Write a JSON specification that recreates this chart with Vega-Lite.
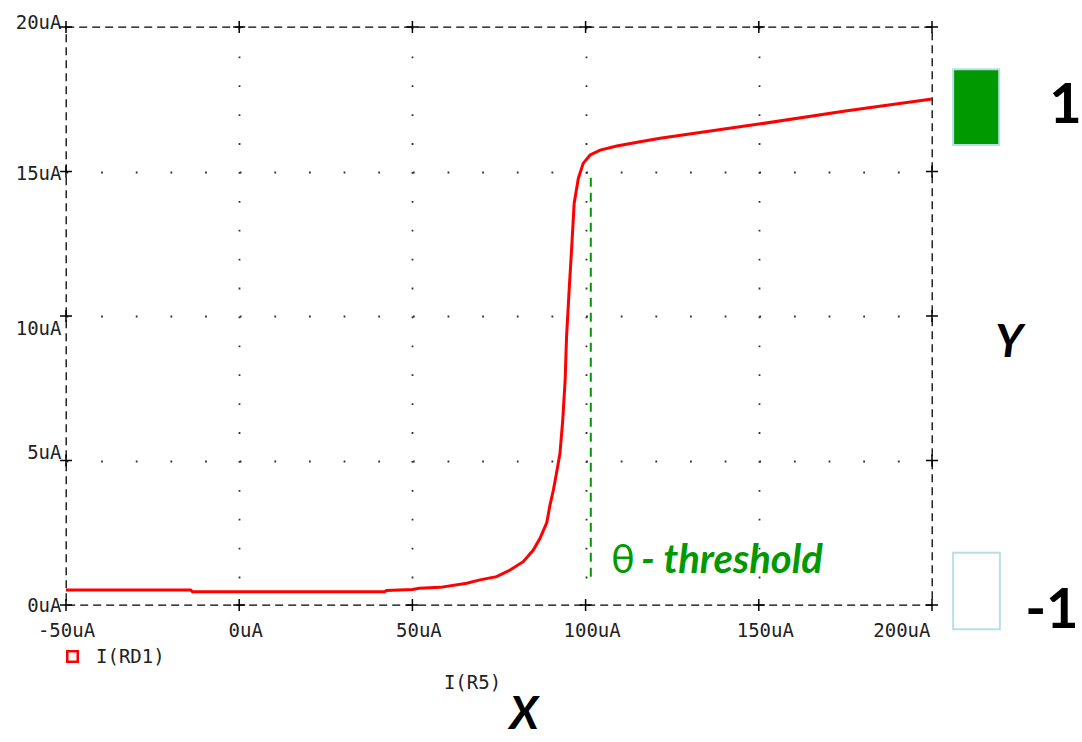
{
  "$schema": "https://vega.github.io/schema/vega-lite/v6.json",
  "width": 866,
  "height": 578,
  "autosize": {"type": "none"},
  "padding": {"left": 66, "top": 27, "right": 150, "bottom": 137},
  "background": "white",
  "config": {
    "view": {"stroke": "#000000", "strokeDash": [8, 5], "strokeWidth": 1.3},
    "axis": {"labelFont": "DejaVu Sans Mono", "titleFont": "DejaVu Sans Mono"}
  },
  "datasets": {
    "curve": [
      {"x": -50, "y": 0.52}, {"x": -14, "y": 0.52}, {"x": -13.5, "y": 0.46}, {"x": 42, "y": 0.46},
      {"x": 42.5, "y": 0.5}, {"x": 50, "y": 0.54}, {"x": 52, "y": 0.58}, {"x": 58, "y": 0.61},
      {"x": 65.7, "y": 0.75}, {"x": 69.5, "y": 0.87}, {"x": 74.3, "y": 0.98}, {"x": 78.2, "y": 1.21},
      {"x": 82, "y": 1.5}, {"x": 84.9, "y": 1.9}, {"x": 86.8, "y": 2.3}, {"x": 88.8, "y": 2.85},
      {"x": 89.7, "y": 3.45}, {"x": 90.7, "y": 3.98}, {"x": 91.5, "y": 4.5}, {"x": 92.6, "y": 5.25},
      {"x": 93.4, "y": 6.4}, {"x": 94.1, "y": 7.8}, {"x": 94.5, "y": 9.28}, {"x": 95.3, "y": 11.0},
      {"x": 96.0, "y": 12.4}, {"x": 96.7, "y": 13.9}, {"x": 97.9, "y": 14.76}, {"x": 99.3, "y": 15.28},
      {"x": 101.3, "y": 15.57}, {"x": 104.2, "y": 15.74}, {"x": 109, "y": 15.88}, {"x": 115.7, "y": 16.03},
      {"x": 121.5, "y": 16.15}, {"x": 150, "y": 16.64}, {"x": 175, "y": 17.09}, {"x": 200, "y": 17.51}
    ],
    "crosses": [
      {"x": -50, "y": 0}, {"x": 0, "y": 0}, {"x": 50, "y": 0}, {"x": 100, "y": 0}, {"x": 150, "y": 0}, {"x": 200, "y": 0},
      {"x": -50, "y": 20}, {"x": 0, "y": 20}, {"x": 50, "y": 20}, {"x": 100, "y": 20}, {"x": 150, "y": 20}, {"x": 200, "y": 20},
      {"x": -50, "y": 5}, {"x": -50, "y": 10}, {"x": -50, "y": 15},
      {"x": 200, "y": 5}, {"x": 200, "y": 10}, {"x": 200, "y": 15}
    ],
    "threshold": [{"x": 101.5, "y": 0.98, "y2": 14.88}],
    "boxes": [
      {"class": "1", "x": 206.1, "x2": 219.4, "y": 18.54, "y2": 15.92},
      {"class": "-1", "x": 206.1, "x2": 219.6, "y": 1.81, "y2": -0.84}
    ],
    "theta": [{"x": 107.3, "y": 1.11, "label": "θ"}],
    "thresholdText": [{"x": 116.0, "y": 1.11, "label": "- threshold"}],
    "classLabels": [
      {"x": 238.5, "y": 16.67, "label": "1"},
      {"x": 234.6, "y": -0.81, "label": "-1"}
    ],
    "axisLetters": [
      {"x": 222.3, "y": 8.59, "label": "Y"},
      {"x": 82.2, "y": -4.3, "label": "X"}
    ]
  },
  "layer": [
    {
      "data": {"name": "curve"},
      "mark": {"type": "line", "strokeWidth": 3, "interpolate": "linear"},
      "encoding": {
        "x": {
          "field": "x", "type": "quantitative",
          "scale": {"domain": [-50, 200], "nice": false, "zero": false},
          "axis": {
            "values": [-50, 0, 50, 100, 150, 200],
            "labelExpr": "datum.value + 'uA'",
            "ticks": false, "tickSize": 0, "domain": false,
            "labelPadding": 16, "labelFontSize": 19, "labelColor": "#222222", "labelFlush": false,
            "labelAlign": {"condition": {"test": "datum.value == 200", "value": "right"}, "value": "center"},
            "labelOffset": {"condition": [{"test": "datum.value == 200", "value": -2}, {"test": "datum.value == -50", "value": 0}], "value": 6},
            "grid": true, "gridColor": "#333333", "gridWidth": 1.8, "gridDash": [1.8, 27.1],
            "gridOpacity": {"condition": {"test": "datum.value == -50 || datum.value == 200", "value": 0}, "value": 1},
            "title": "I(R5)", "titleFontSize": 19, "titleFontWeight": "normal", "titleColor": "#222222",
            "titleX": 406, "titleY": 68, "titleBaseline": "top", "titleAlign": "center"
          }
        },
        "y": {
          "field": "y", "type": "quantitative",
          "scale": {"domain": [0, 20], "nice": false, "zero": false},
          "axis": {
            "values": [0, 5, 10, 15, 20],
            "labelExpr": "datum.value + 'uA'",
            "ticks": false, "tickSize": 0, "domain": false,
            "labelPadding": 5, "labelFontSize": 19, "labelColor": "#222222", "labelFlush": false,
            "labelOffset": {"condition": [{"test": "datum.value == 20", "value": -5}, {"test": "datum.value == 15", "value": 2}, {"test": "datum.value == 10", "value": 12}, {"test": "datum.value == 5", "value": -8}], "value": 0},
            "grid": true, "gridColor": "#333333", "gridWidth": 1.8, "gridDash": [1.8, 32.84],
            "gridOpacity": {"condition": {"test": "datum.value == 0 || datum.value == 20", "value": 0}, "value": 1},
            "title": null
          }
        },
        "color": {
          "datum": "I(RD1)",
          "scale": {"range": ["#ff0000"]},
          "legend": {
            "orient": "none", "legendX": -3, "legendY": 620, "title": null, "padding": 0,
            "labelFont": "DejaVu Sans Mono", "labelFontSize": 19, "labelColor": "#222222",
            "symbolType": "square", "symbolSize": 110, "symbolStrokeWidth": 2.5,
            "symbolFillColor": "white", "symbolStrokeColor": "#ff0000", "labelOffset": 14
          }
        }
      }
    },
    {
      "data": {"name": "threshold"},
      "mark": {"type": "rule", "color": "#009900", "strokeWidth": 2, "strokeDash": [9, 6]},
      "encoding": {
        "x": {"field": "x", "type": "quantitative"},
        "y": {"field": "y", "type": "quantitative"},
        "y2": {"field": "y2"}
      }
    },
    {
      "data": {"name": "crosses"},
      "mark": {"type": "point", "shape": "M-1,0H1M0,-1V1", "filled": false, "stroke": "#000000", "strokeWidth": 1.5, "size": 144, "opacity": 1},
      "encoding": {
        "x": {"field": "x", "type": "quantitative"},
        "y": {"field": "y", "type": "quantitative"}
      }
    },
    {
      "data": {"name": "boxes"},
      "mark": {"type": "rect", "stroke": "#b8dfe6", "strokeWidth": 2},
      "encoding": {
        "x": {"field": "x", "type": "quantitative"},
        "x2": {"field": "x2"},
        "y": {"field": "y", "type": "quantitative"},
        "y2": {"field": "y2"},
        "fill": {"field": "class", "type": "nominal", "scale": {"domain": ["1", "-1"], "range": ["#009900", "#ffffff"]}, "legend": null}
      }
    },
    {
      "data": {"name": "theta"},
      "mark": {"type": "text", "font": "Lato", "fontSize": 40, "color": "#009900", "align": "left", "baseline": "alphabetic"},
      "encoding": {
        "x": {"field": "x", "type": "quantitative"},
        "y": {"field": "y", "type": "quantitative"},
        "text": {"field": "label"}
      }
    },
    {
      "data": {"name": "thresholdText"},
      "mark": {"type": "text", "font": "Lato", "fontSize": 40, "fontWeight": "bold", "fontStyle": "italic", "color": "#009900", "align": "left", "baseline": "alphabetic"},
      "encoding": {
        "x": {"field": "x", "type": "quantitative"},
        "y": {"field": "y", "type": "quantitative"},
        "text": {"field": "label"}
      }
    },
    {
      "data": {"name": "classLabels"},
      "mark": {"type": "text", "font": "Lato", "fontSize": 56, "fontWeight": "bold", "color": "#000000", "align": "center", "baseline": "alphabetic"},
      "encoding": {
        "x": {"field": "x", "type": "quantitative"},
        "y": {"field": "y", "type": "quantitative"},
        "text": {"field": "label"}
      }
    },
    {
      "data": {"name": "axisLetters"},
      "mark": {"type": "text", "font": "Lato", "fontSize": 46, "fontWeight": "bold", "fontStyle": "italic", "color": "#000000", "align": "center", "baseline": "alphabetic"},
      "encoding": {
        "x": {"field": "x", "type": "quantitative"},
        "y": {"field": "y", "type": "quantitative"},
        "text": {"field": "label"}
      }
    }
  ]
}
